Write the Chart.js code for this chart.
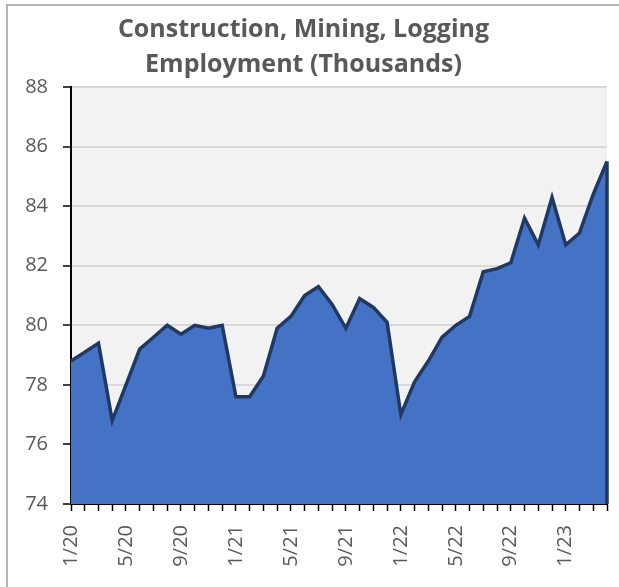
<!DOCTYPE html>
<html>
<head>
<meta charset="utf-8">
<script src="https://cdn.jsdelivr.net/npm/chart.js@4.4.1/dist/chart.umd.min.js"></script>
<style>
  html, body { margin: 0; padding: 0; background: #fff; }
  #wrap { position: relative; width: 619px; height: 587px; }
  #frame {
    position: absolute; left: 6px; top: 4px; width: 640px; height: 620px;
    border-left: 2px solid #b4b4b4; border-top: 2px solid #b4b4b4;
    pointer-events: none;
  }
  canvas { position: absolute; left: 0; top: 0; }
</style>
</head>
<body>
<div id="wrap">
  <div id="frame"></div>
  <canvas id="chart" width="619" height="587"></canvas>
</div>
<script>
// months 1/20 .. 4/23
const months = [
  '1/20', '2/20', '3/20', '4/20', '5/20', '6/20', '7/20', '8/20', '9/20', '10/20', '11/20', '12/20',
  '1/21', '2/21', '3/21', '4/21', '5/21', '6/21', '7/21', '8/21', '9/21', '10/21', '11/21', '12/21',
  '1/22', '2/22', '3/22', '4/22', '5/22', '6/22', '7/22', '8/22', '9/22', '10/22', '11/22', '12/22',
  '1/23', '2/23', '3/23', '4/23'
];

const employment = [
  78.8, 79.1, 79.4, 76.8, 78.0, 79.2, 79.6, 80.0, 79.7, 80.0, 79.9, 80.0,
  77.6, 77.6, 78.3, 79.9, 80.3, 81.0, 81.3, 80.7, 79.9, 80.9, 80.6, 80.1,
  77.0, 78.1, 78.8, 79.6, 80.0, 80.3, 81.8, 81.9, 82.1, 83.6, 82.7, 84.3,
  82.7, 83.1, 84.4, 85.5
];

const yTicks = [74, 76, 78, 80, 82, 84, 86, 88];

const textColor = '#595959';
const labelFont = { family: 'Open Sans', size: 20 };

// grey plot background behind the area
const plotBg = {
  id: 'plotBg',
  beforeDraw(chart) {
    const { ctx, chartArea } = chart;
    ctx.save();
    ctx.fillStyle = '#f2f2f2';
    ctx.fillRect(chartArea.left, chartArea.top, chartArea.right - chartArea.left, chartArea.bottom - chartArea.top);
    ctx.restore();
  }
};

// close the outline on the right edge of the area, like the original
const areaEdge = {
  id: 'areaEdge',
  afterDatasetsDraw(chart) {
    const meta = chart.getDatasetMeta(0);
    const last = meta.data[meta.data.length - 1];
    if (!last) return;
    const { ctx, chartArea } = chart;
    ctx.save();
    ctx.strokeStyle = '#203864';
    ctx.lineWidth = 3.5;
    ctx.beginPath();
    ctx.moveTo(last.x, last.y);
    ctx.lineTo(last.x, chartArea.bottom);
    ctx.stroke();
    ctx.restore();
  }
};

new Chart(document.getElementById('chart'), {
  type: 'line',
  data: {
    labels: months,
    datasets: [{
      data: employment,
      fill: 'start',
      backgroundColor: '#4472c4',
      borderColor: '#203864',
      borderWidth: 3.5,
      borderJoinStyle: 'miter',
      tension: 0,
      pointRadius: 0
    }]
  },
  options: {
    responsive: false,
    animation: false,
    layout: { padding: { left: 0, right: 12, top: 0, bottom: 0 } },
    plugins: {
      legend: { display: false },
      tooltip: { enabled: false },
      title: {
        display: true,
        text: ['Construction, Mining, Logging', 'Employment (Thousands)'],
        color: textColor,
        font: { family: 'Open Sans', size: 25, weight: 'bold', lineHeight: 1.4 },
        padding: { top: 12, bottom: 5 }
      }
    },
    scales: {
      x: {
        offset: false,
        grid: {
          display: true,
          drawOnChartArea: false,
          drawTicks: true,
          tickLength: 7,
          tickColor: '#000',
          tickWidth: 1.5
        },
        border: { color: '#000', width: 2 },
        ticks: {
          autoSkip: false,
          maxRotation: 90,
          minRotation: 90,
          padding: 14,
          color: textColor,
          font: labelFont,
          callback: (v, i) => (i % 4 === 0 ? months[i] : '')
        },
        afterFit(scale) {
          scale.height = 83;
          scale.paddingLeft = 0;
          scale.paddingRight = 0;
        }
      },
      y: {
        min: 74,
        max: 88,
        afterBuildTicks(scale) { scale.ticks = yTicks.map(v => ({ value: v })); },
        grid: {
          color: '#d9d9d9',
          lineWidth: 2,
          tickLength: 8,
          tickColor: '#000',
          tickWidth: 1.5
        },
        border: { color: '#000', width: 2 },
        ticks: {
          padding: 15,
          color: textColor,
          font: labelFont
        },
        afterFit(scale) { scale.width = 71; }
      }
    }
  },
  plugins: [plotBg, areaEdge]
});
</script>
</body>
</html>
